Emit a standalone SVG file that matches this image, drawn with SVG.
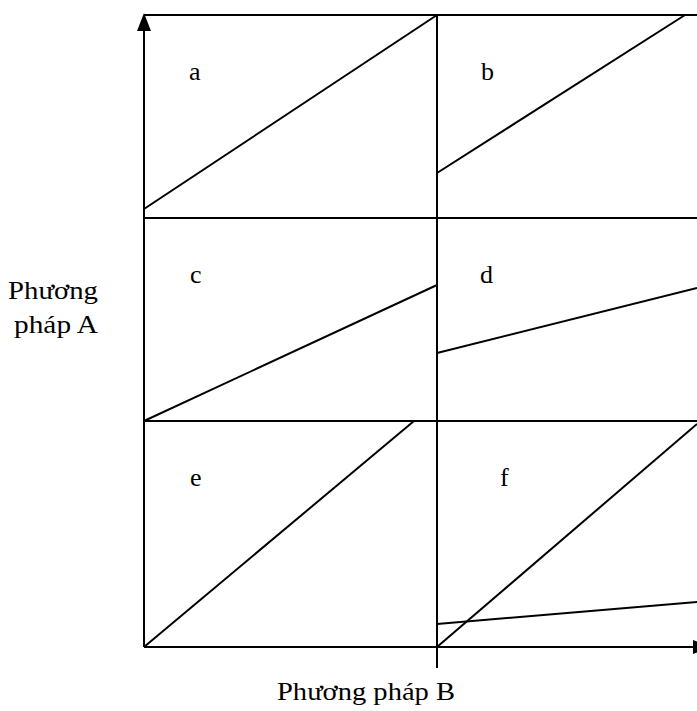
<svg xmlns="http://www.w3.org/2000/svg" width="697" height="711" viewBox="0 0 697 711">
<style>
.ln{stroke:#000;stroke-width:2;fill:none}
.t{font-family:"Liberation Serif","Times New Roman",serif;font-size:26px;fill:#000}
</style>
<rect width="697" height="711" fill="#fff"/>
<g id="grid" class="ln">
<line x1="144" y1="15" x2="697" y2="15"/>
<line x1="144" y1="218" x2="697" y2="218"/>
<line x1="144" y1="421" x2="697" y2="421"/>
<line x1="437" y1="15" x2="437" y2="668"/>
</g>
<g id="axes">
<line class="ln" x1="144" y1="647" x2="144" y2="28"/>
<polygon points="144,13 137,31 151,31" fill="#000"/>
<line class="ln" x1="144" y1="647" x2="695" y2="647"/>
<polygon points="712,647 693,640 693,654" fill="#000"/>
</g>
<g id="connectors" class="ln">
<line x1="144" y1="209" x2="437" y2="15"/>
<line x1="437" y1="173" x2="685" y2="15"/>
<line x1="144" y1="421" x2="437" y2="285"/>
<line x1="437" y1="353" x2="697" y2="288"/>
<line x1="144" y1="647" x2="414" y2="421"/>
<line x1="437" y1="647" x2="697" y2="424"/>
<line x1="437" y1="624" x2="697" y2="602"/>
</g>
<g id="labels" class="t">
<text x="189" y="80">a</text>
<text x="481" y="80">b</text>
<text x="190" y="283">c</text>
<text x="480" y="283">d</text>
<text x="190" y="486">e</text>
<text x="500" y="486">f</text>
<text x="8" y="299" textLength="90" lengthAdjust="spacingAndGlyphs">Phương</text>
<text x="14" y="333" textLength="84" lengthAdjust="spacingAndGlyphs">pháp A</text>
<text x="277" y="700" textLength="178" lengthAdjust="spacingAndGlyphs">Phương pháp B</text>
</g>
</svg>
